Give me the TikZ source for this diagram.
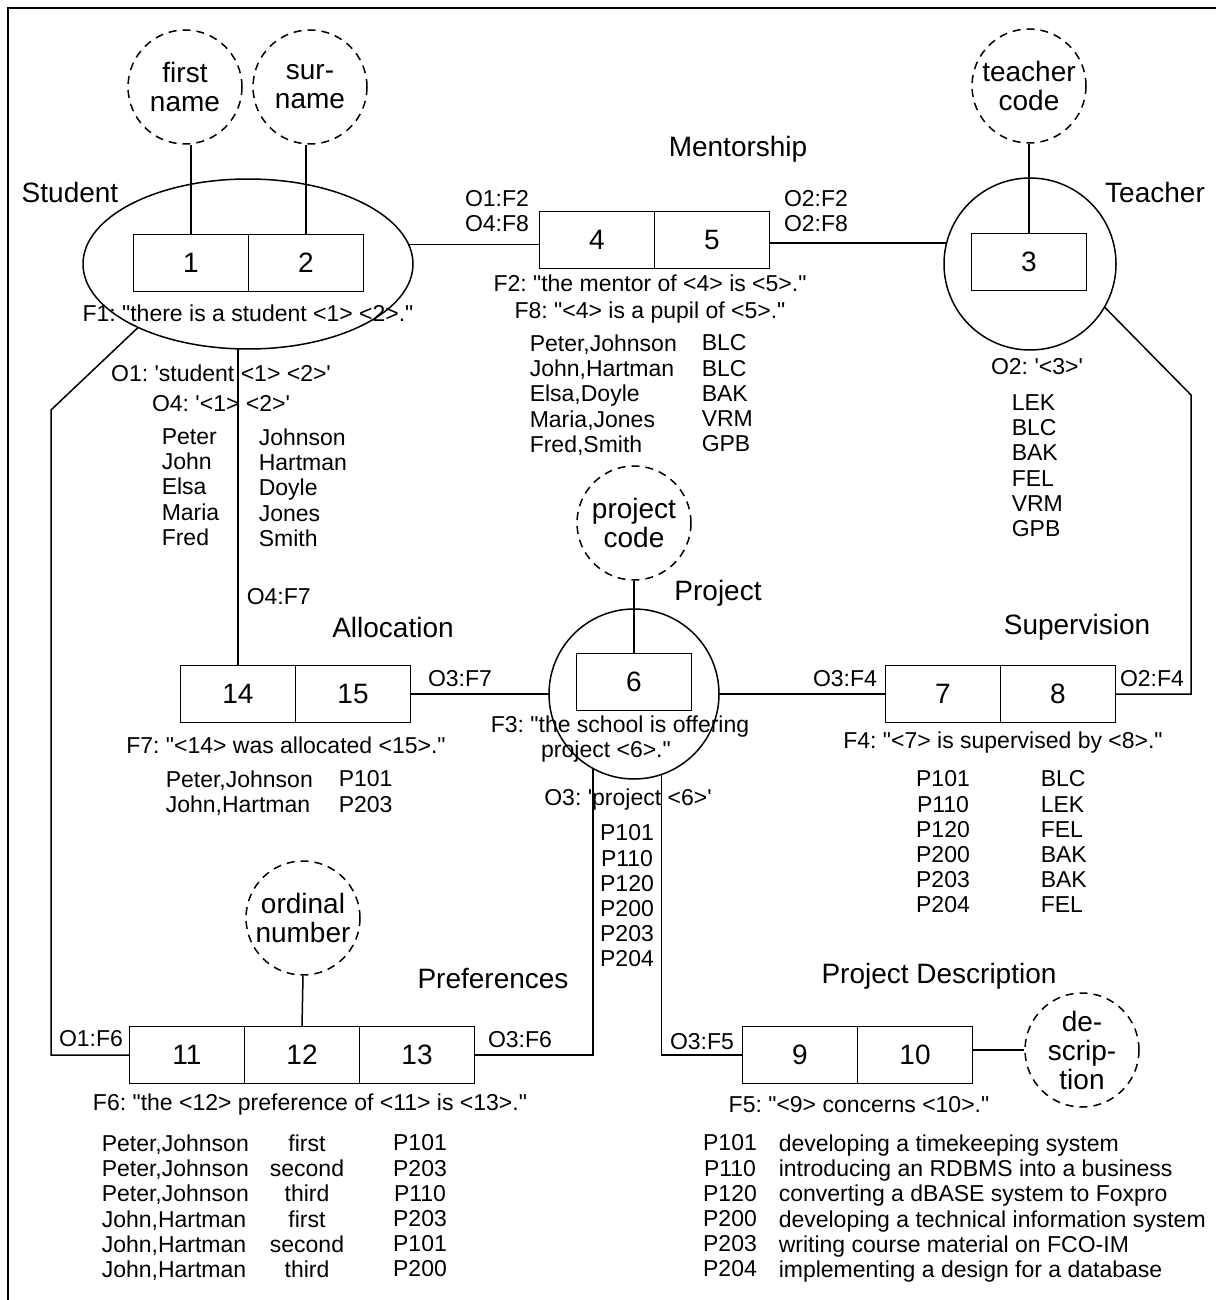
\documentclass[tikz,border=0pt]{standalone}
\usepackage{fontspec}
\setmainfont{Liberation Sans}[Ligatures=TeXOff]
\usetikzlibrary{positioning,shapes.geometric}
\newcommand\lbfont{\fontsize{14}{14.5}\selectfont}
\newcommand\smfont{\fontsize{11.5}{12.6}\selectfont}
\frenchspacing

\begin{document}
\begin{tikzpicture}[x=0.5pt,y=-0.5pt,line width=0.75pt,
    cell/.style={draw,minimum width=57.5pt,minimum height=28.5pt,inner sep=0pt,outer sep=0pt,font=\lbfont},
    attr/.style={draw,circle,dash pattern=on 4pt off 3pt,minimum size=57pt,inner sep=0pt,align=center,font=\lbfont},
    ent/.style={draw,circle,inner sep=0pt,outer sep=0pt},
    lbl/.style={font=\lbfont,inner sep=0pt},
    sm/.style={font=\smfont,inner sep=0pt},
    tab/.style={font=\smfont,inner sep=0pt,anchor=north west,align=left}]
    \useasboundingbox (0,0) rectangle (1216,1300);
    \draw (1216,8) -| (8,1300);
    % Student
    \node[ent,ellipse,minimum width=165pt,minimum height=85pt] (stu) at (248,264) {};
    \node[cell] (c1) at (191,263) {1};
    \node[cell,right=0pt of c1] (c2) {2};
    \node[lbl] (stuL) at (70,192) {Student};
    \node[attr] (fn) at (185,87) {first\\name};
    \node[attr] (sn) at (310,87) {sur-\\name};
    \node[sm] (f1) at (248,313) {F1: "there is a student <1> <2>."};
    \node[sm] (o1) at (221,373) {O1: 'student <1> <2>'};
    \node[sm] (o4) at (221,404) {O4: '<1> <2>'};
    \node[tab] (fnames) at (161,428) {Peter\\John\\Elsa\\Maria\\Fred};
    \node[tab] (snames) at (258,428) {Johnson\\Hartman\\Doyle\\Jones\\Smith};
    % Mentorship
    \node[lbl] (menL) at (738,149) {Mentorship};
    \node[cell] (c4) at (597,240) {4};
    \node[cell,right=0pt of c4] (c5) {5};
    \node[sm,align=center] (m1) at (497,211) {O1:F2\\O4:F8};
    \node[sm,align=center] (m2) at (816,211) {O2:F2\\O2:F8};
    \node[sm] (f2) at (650,283) {F2: "the mentor of <4> is <5>."};
    \node[sm] (f8) at (650,313) {F8: "<4> is a pupil of <5>."};
    \node[tab] (mnames) at (529,334) {Peter,Johnson\\John,Hartman\\Elsa,Doyle\\Maria,Jones\\Fred,Smith};
    \node[tab] (mcodes) at (701,334) {BLC\\BLC\\BAK\\VRM\\GPB};
    % Teacher
    \node[ent,minimum size=86pt] (tch) at (1030,264) {};
    \node[cell] (c3) at (1029,262) {3};
    \node[attr] (tc) at (1029,86) {teacher\\code};
    \node[lbl] (tchL) at (1155,192) {Teacher};
    \node[sm] (o2) at (1037,367) {O2: '<3>'};
    \node[tab] (tcodes) at (1011,394) {LEK\\BLC\\BAK\\FEL\\VRM\\GPB};
    % Project
    \node[ent,minimum size=85pt] (prj) at (634,694) {};
    \node[cell] (c6) at (634,682) {6};
    \node[attr] (pc) at (634,523) {project\\code};
    \node[lbl] (prjL) at (718,593) {Project};
    \node[sm,align=center] (f3) at (620,739) {F3: "the school is offering\\project <6>."\hspace*{14pt}};
    \node[sm] (o3) at (628,800) {O3: 'project <6>'};
    \node[tab,align=center,anchor=north] (pcodes) at (627,824) {P101\\P110\\P120\\P200\\P203\\P204};
    % Allocation
    \node[lbl] (allL) at (393,627) {Allocation};
    \node[cell] (c14) at (238,694) {14};
    \node[cell,right=0pt of c14] (c15) {15};
    \node[sm,anchor=west] (o4f7) at (246,597) {O4:F7};
    \node[sm] (o3f7) at (460,679) {O3:F7};
    \node[sm] (f7) at (286,745) {F7: "<14> was allocated <15>."};
    \node[tab] (anames) at (165,770) {Peter,Johnson\\John,Hartman};
    \node[tab] (acodes) at (338,770) {P101\\P203};
    % Supervision
    \node[lbl] (supL) at (1077,627) {Supervision};
    \node[cell] (c7) at (943,694) {7};
    \node[cell,right=0pt of c7] (c8) {8};
    \node[sm] (o3f4) at (845,679) {O3:F4};
    \node[sm] (o2f4) at (1152,679) {O2:F4};
    \node[sm] (f4) at (1003,743) {F4: "<7> is supervised by <8>."};
    \node[tab,align=center,anchor=north] (scodes) at (943,770) {P101\\P110\\P120\\P200\\P203\\P204};
    \node[tab] (steach) at (1040,770) {BLC\\LEK\\FEL\\BAK\\BAK\\FEL};
    % Preferences
    \node[lbl] (prfL) at (493,978) {Preferences};
    \node[cell] (c11) at (187,1055) {11};
    \node[cell,right=0pt of c11] (c12) {12};
    \node[cell,right=0pt of c12] (c13) {13};
    \node[attr] (ord) at (303,918) {ordinal\\number};
    \node[sm] (o1f6) at (91,1039) {O1:F6};
    \node[sm] (o3f6) at (520,1040) {O3:F6};
    \node[sm] (f6) at (310,1105) {F6: "the <12> preference of <11> is <13>."};
    \node[tab] (pnames) at (101,1134) {Peter,Johnson\\Peter,Johnson\\Peter,Johnson\\John,Hartman\\John,Hartman\\John,Hartman};
    \node[tab,align=center,anchor=north] (pords) at (307,1134) {first\\second\\third\\first\\second\\third};
    \node[tab,align=center,anchor=north] (pprj) at (420,1134) {P101\\P203\\P110\\P203\\P101\\P200};
    % Project Description
    \node[lbl] (pdL) at (939,976) {Project Description};
    \node[cell] (c9) at (800,1055) {9};
    \node[cell,right=0pt of c9] (c10) {10};
    \node[attr] (dsc) at (1082,1050) {de-\\scrip-\\tion};
    \node[sm] (o3f5) at (702,1042) {O3:F5};
    \node[sm] (f5) at (859,1105) {F5: "<9> concerns <10>."};
    \node[tab,align=center,anchor=north] (dcodes) at (730,1134) {P101\\P110\\P120\\P200\\P203\\P204};
    \node[tab] (dtext) at (778,1134) {developing a timekeeping system\\introducing an RDBMS into a business\\converting a dBASE system to Foxpro\\developing a technical information system\\writing course material on FCO-IM\\implementing a design for a database};
    % connectors
    \draw (c1.north) -- (c1.north |- fn.south);
    \draw (c2.north) -- (c2.north |- sn.south);
    \draw (c3.north) -- (tc.south);
    \draw (c6.north) -- (pc.south);
    \draw (c12.north) -- (ord.south);
    \draw (dsc.west) -- (dsc.west -| c10.east);
    \draw (stu.7) -- (stu.7 -| c4.west);
    \draw (tch.166) -- (tch.166 -| c5.east);
    \draw (c14.north) -- (c14.north |- stu.south);
    \draw (c15.east) -- (prj.west);
    \draw (prj.east) -- (c7.west);
    \coordinate (sbend) at (1191,395);
    \draw (tch.-30) -- (sbend) |- (c8.east);
    \coordinate (pbend) at (51,410);
    \draw (stu.210) -- (pbend) |- (c11.west);
    \draw (prj.241) |- (c13.east);
    \draw (prj.289) |- (c9.west);
\end{tikzpicture}
\end{document}
